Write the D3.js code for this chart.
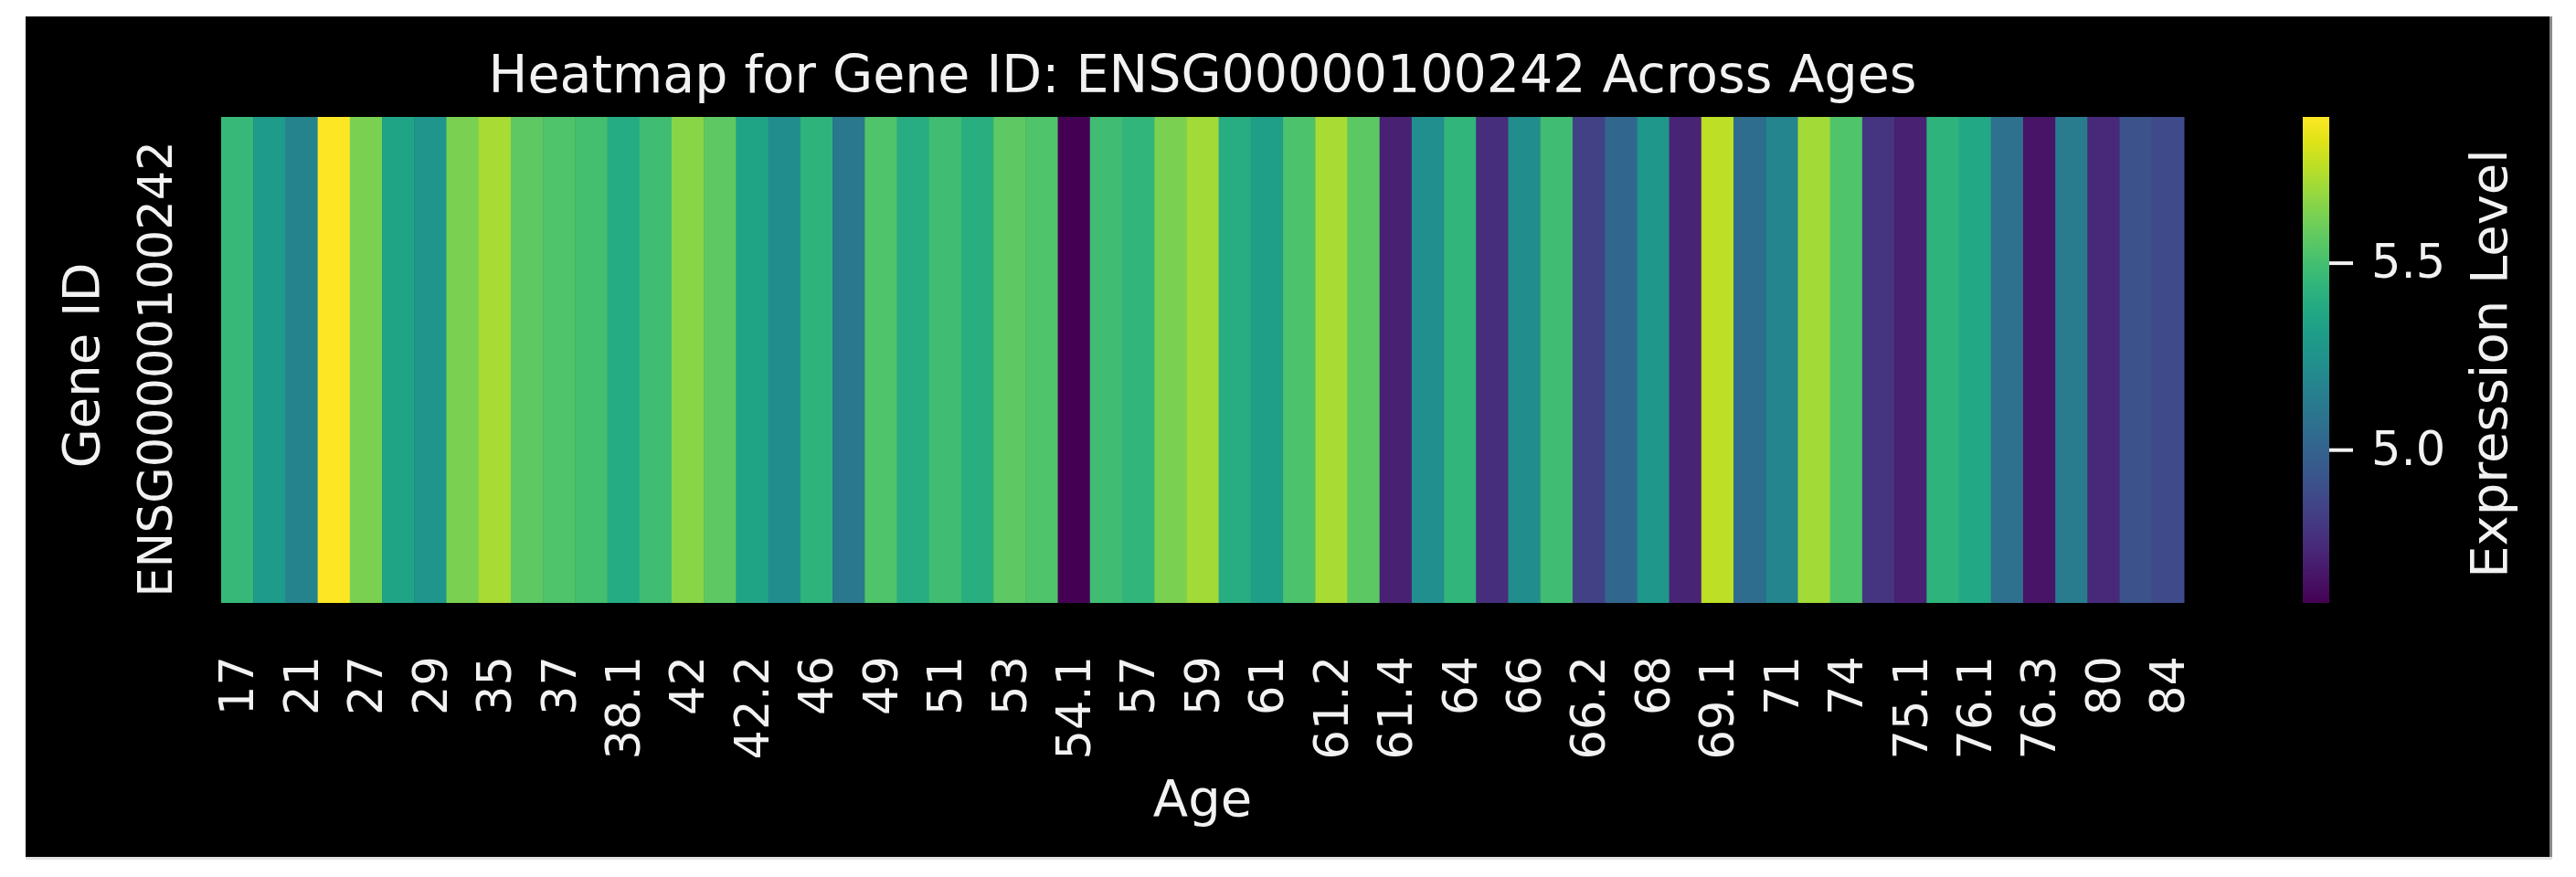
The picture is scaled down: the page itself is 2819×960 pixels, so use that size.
<!DOCTYPE html>
<html>
<head>
<meta charset="utf-8">
<script src="https://cdn.jsdelivr.net/npm/d3@7"></script>
<style>
  html, body { margin: 0; padding: 0; background: #ffffff; }
  svg text { font-family: "DejaVu Sans", sans-serif; fill: #f2f2f2; }
</style>
</head>
<body>
<svg id="chart" width="2819" height="960"></svg>
<script>
// ---- data ----
const title = "Heatmap for Gene ID: ENSG00000100242 Across Ages";
const geneIds = ["ENSG00000100242"];
const xLabel = "Age";
const yLabel = "Gene ID";
const colorbarLabel = "Expression Level";
// expression value per age column (61 columns, left to right)
const expression = [
  5.46, 5.30, 5.17, 5.89, 5.63, 5.35, 5.27, 5.63, 5.72, 5.57,
  5.53, 5.50, 5.39, 5.49, 5.66, 5.57, 5.35, 5.22, 5.43, 5.11,
  5.53, 5.40, 5.49, 5.41, 5.57, 5.53, 4.59, 5.49, 5.44, 5.63,
  5.71, 5.40, 5.32, 5.52, 5.72, 5.56, 4.71, 5.23, 5.44, 4.76,
  5.22, 5.49, 4.84, 5.02, 5.28, 4.72, 5.76, 5.05, 5.18, 5.71,
  5.53, 4.79, 4.71, 5.43, 5.37, 5.07, 4.66, 5.13, 4.74, 4.92,
  4.88
];
// visible age tick labels (every other column, starting at the first)
const ageTickLabels = [
  "17", "21", "27", "29", "35", "37", "38.1", "42", "42.2", "46", "49",
  "51", "53", "54.1", "57", "59", "61", "61.2", "61.4", "64", "66",
  "66.2", "68", "69.1", "71", "74", "75.1", "76.1", "76.3", "80", "84"
];
const colorbarTicks = [5.0, 5.5];

// ---- layout ----
const svg = d3.select("#chart");
const panel = { x0: 28, y0: 18, x1: 2790, y1: 938 };
const plot = { left: 242, right: 2390, top: 128, bottom: 660 };
const cbar = { left: 2520, right: 2549 };

svg.append("rect")
  .attr("x", panel.x0).attr("y", panel.y0)
  .attr("width", panel.x1 - panel.x0).attr("height", panel.y1 - panel.y0)
  .attr("fill", "#000");
svg.append("line")
  .attr("x1", panel.x1 + 1.5).attr("x2", panel.x1 + 1.5)
  .attr("y1", panel.y0).attr("y2", panel.y1 + 3)
  .attr("stroke", "#8a8a8a").attr("stroke-width", 3);
svg.append("line")
  .attr("x1", panel.x0).attr("x2", panel.x1 + 3)
  .attr("y1", panel.y1 + 1.5).attr("y2", panel.y1 + 1.5)
  .attr("stroke", "#e2e2e2").attr("stroke-width", 3);

const cols = d3.range(expression.length);
const x = d3.scaleBand().domain(cols).range([plot.left, plot.right]).padding(0);
const y = d3.scaleBand().domain(geneIds).range([plot.top, plot.bottom]).padding(0);
const extent = d3.extent(expression);
const color = d3.scaleSequential(d3.interpolateViridis).domain(extent);

// heatmap cells
svg.append("g").selectAll("rect")
  .data(expression)
  .join("rect")
  .attr("x", (d, i) => x(i))
  .attr("y", y(geneIds[0]))
  .attr("width", x.bandwidth() + 0.5)
  .attr("height", y.bandwidth())
  .attr("fill", d => color(d));

// x tick labels (every other column)
const xAxis = d3.axisBottom(x)
  .tickValues(cols.filter(i => i % 2 === 0))
  .tickFormat(i => ageTickLabels[i / 2])
  .tickSize(0).tickPadding(0);
const gx = svg.append("g").attr("transform", `translate(0,${plot.bottom})`).call(xAxis);
gx.select(".domain").remove();
gx.selectAll("text")
  .attr("font-size", 51)
  .attr("fill", "#f2f2f2")
  .attr("text-anchor", "end")
  .attr("y", 0).attr("dy", "0.35em")
  .attr("transform", "translate(0,58) rotate(-90)");

// y tick label
const yAxis = d3.axisLeft(y).tickSize(0).tickPadding(0);
const gy = svg.append("g").attr("transform", `translate(${plot.left},0)`).call(yAxis);
gy.select(".domain").remove();
gy.selectAll(".tick").each(function(d) {
  const t = d3.select(this);
  t.select("text")
    .attr("font-size", 51)
    .attr("fill", "#f2f2f2")
    .attr("text-anchor", "middle")
    .attr("x", 0).attr("dy", 0)
    .attr("transform", `translate(${188 - plot.left},10) rotate(-90)`);
});

// axis labels & title
svg.append("text")
  .attr("x", (plot.left + plot.right) / 2).attr("y", 893)
  .attr("text-anchor", "middle").attr("font-size", 56)
  .text(xLabel);
svg.append("text")
  .attr("transform", `translate(108,${(plot.top + plot.bottom) / 2 + 6}) rotate(-90)`)
  .attr("text-anchor", "middle").attr("font-size", 56)
  .text(yLabel);
svg.append("text")
  .attr("x", (plot.left + plot.right) / 2).attr("y", 101)
  .attr("text-anchor", "middle").attr("font-size", 57)
  .text(title);

// colorbar
const defs = svg.append("defs");
const grad = defs.append("linearGradient").attr("id", "cbgrad")
  .attr("x1", 0).attr("y1", 1).attr("x2", 0).attr("y2", 0);
d3.range(0, 1.0001, 0.05).forEach(t => {
  grad.append("stop").attr("offset", t).attr("stop-color", d3.interpolateViridis(t));
});
svg.append("rect")
  .attr("x", cbar.left).attr("y", plot.top)
  .attr("width", cbar.right - cbar.left).attr("height", plot.bottom - plot.top)
  .attr("fill", "url(#cbgrad)");

const cScale = d3.scaleLinear().domain(extent).range([plot.bottom, plot.top]);
const cAxis = d3.axisRight(cScale)
  .tickValues(colorbarTicks)
  .tickFormat(d3.format(".1f"))
  .tickSize(26).tickPadding(20);
const gc = svg.append("g").attr("transform", `translate(${cbar.right},0)`).call(cAxis);
gc.select(".domain").remove();
gc.selectAll(".tick line").attr("stroke", "#f2f2f2").attr("stroke-width", 4);
gc.selectAll(".tick text").attr("font-size", 51).attr("fill", "#f2f2f2");

svg.append("text")
  .attr("transform", `translate(2743,${(plot.top + plot.bottom) / 2 + 4}) rotate(-90)`)
  .attr("text-anchor", "middle").attr("font-size", 56)
  .text(colorbarLabel);
</script>
</body>
</html>
